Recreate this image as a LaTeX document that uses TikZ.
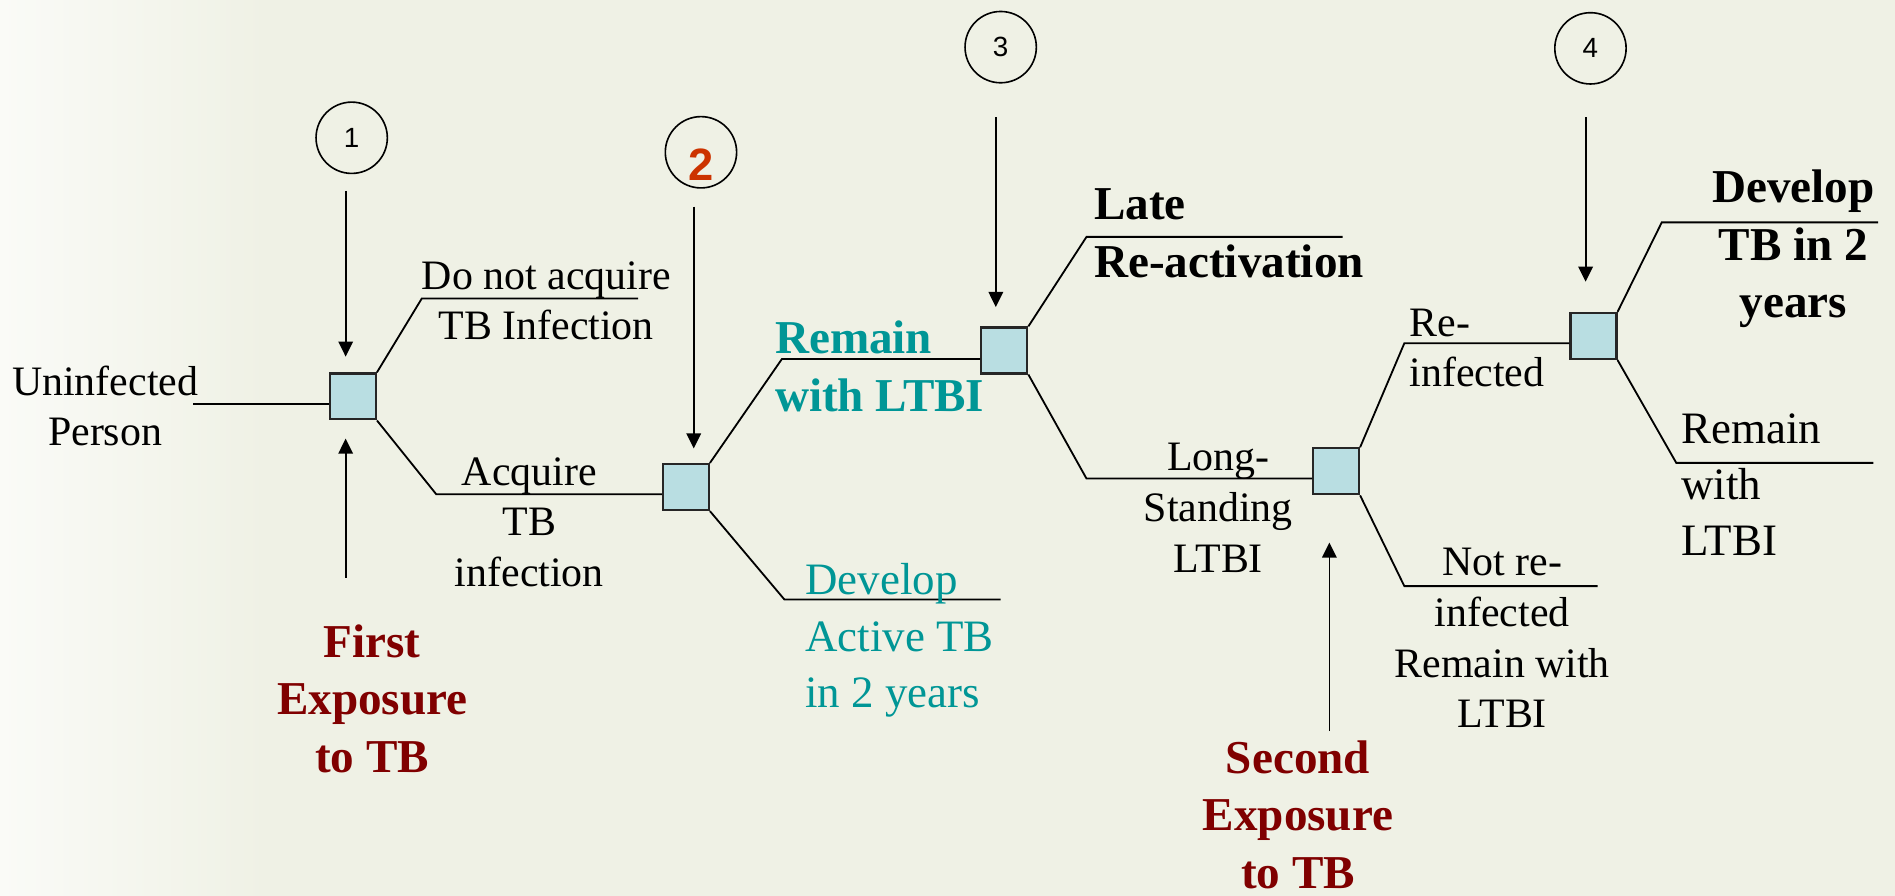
\documentclass[tikz,border=0pt]{standalone}
\usepackage{fontspec}
\setmainfont{Liberation Serif}
\newfontfamily\arialfont{Liberation Sans}
\usetikzlibrary{arrows.meta,calc}
\definecolor{bgc}{RGB}{239,241,229}
\definecolor{boxblue}{RGB}{185,222,226}
\definecolor{tealc}{RGB}{0,150,150}
\definecolor{dred}{RGB}{128,0,0}
\definecolor{rorange}{RGB}{204,51,0}
\tikzset{
  decbox/.style={draw=black!85, line width=1.1pt, fill=boxblue, minimum width=22.8pt, minimum height=22.8pt, inner sep=0pt},
  numc/.style={circle, draw, line width=0.8pt, minimum size=35.4pt, inner sep=0pt, font=\arialfont\fontsize{13.8}{16}\selectfont},
  branch/.style={line width=0.9pt},
  arr/.style={line width=0.9pt, -{Triangle[length=7.5pt,width=7.2pt]}},
  sm/.style={font=\fontsize{20.8}{25.2}\selectfont, inner sep=0pt, align=center},
  lg/.style={font=\fontsize{22.3}{28}\selectfont, inner sep=0pt},
  bd/.style={font=\bfseries\fontsize{23.4}{28.5}\selectfont, inner sep=0pt},
}
\begin{document}
\begin{tikzpicture}[x=0.6pt,y=-0.6pt]
\fill[bgc] (0,0) rectangle (1568,741);
\useasboundingbox (0,0) rectangle (1568,741);
\shade[left color=white!70!bgc, right color=bgc] (0,0) rectangle (220,741);

% numbered circles
\node[numc] (c1) at (291,114) {1};
\node[numc] (c2) at (580,126) {};
\node[font=\arialfont\bfseries\fontsize{22.5}{24}\selectfont, text=rorange, inner sep=0pt] (c2t) at (580,136) {2};
\node[numc] (c3) at (828,39) {3};
\node[numc] (c4) at (1316,40) {4};

% decision boxes
\node[decbox] (b1) at (292,328) {};
\node[decbox] (b2) at (567.5,403) {};
\node[decbox] (b3) at (831,290) {};
\node[decbox] (b4) at (1105.5,390) {};
\node[decbox] (b5) at (1318.5,278) {};

% coordinates
\coordinate (in0) at (160,334);
\coordinate (k1u) at (349,247); \coordinate (e1u) at (528,247);
\coordinate (k1d) at (361,409);
\coordinate (k2u) at (647,297);
\coordinate (k2d) at (649,496); \coordinate (e2d) at (828,496);
\coordinate (k3u) at (899,196); \coordinate (e3u) at (1111,196);
\coordinate (k3d) at (899,396);
\coordinate (k4u) at (1162,284);
\coordinate (k4d) at (1162,485); \coordinate (e4d) at (1322,485);
\coordinate (k5u) at (1375,184); \coordinate (e5u) at (1554,184);
\coordinate (k5d) at (1387,383); \coordinate (e5d) at (1550,383);
\coordinate (a1s) at (286,158);
\coordinate (x1s) at (286,478);
\coordinate (a2s) at (574,171);
\coordinate (a3s) at (824,97);
\coordinate (a4s) at (1312,97);
\coordinate (x2s) at (1100,605);

% branches
\draw[branch] (in0) -- (in0 -| b1.west);
\draw[branch] (b1.north east) -- (k1u) -- (e1u);
\draw[branch] (b1.south east) -- (k1d) -- (k1d -| b2.west);
\draw[branch] (b2.north east) -- (k2u) -- (k2u -| b3.west);
\draw[branch] (b2.south east) -- (k2d) -- (e2d);
\draw[branch] (b3.north east) -- (k3u) -- (e3u);
\draw[branch] (b3.south east) -- (k3d) -- (k3d -| b4.west);
\draw[branch] (b4.north east) -- (k4u) -- (k4u -| b5.west);
\draw[branch] (b4.south east) -- (k4d) -- (e4d);
\draw[branch] (b5.north east) -- (k5u) -- (e5u);
\draw[branch] (b5.south east) -- (k5d) -- (e5d);

% arrows
\draw[arr, shorten >=7.8pt] (a1s) -- (a1s |- b1.north);
\draw[arr, shorten >=9pt] (x1s) -- (x1s |- b1.south);
\draw[arr, shorten >=7.2pt] (a2s) -- (a2s |- b2.north);
\draw[arr, shorten >=9.6pt] (a3s) -- (a3s |- b3.north);
\draw[arr, shorten >=15pt] (a4s) -- (a4s |- b5.north);
\draw[arr, shorten >=23.4pt] (x2s) -- (x2s |- b4.south);

% texts
\node[sm] (unin) at (87,336) {Uninfected\\Person};
\node[sm] (dna) at (452,249) {Do not acquire\\TB Infection};
\node[sm] (acq) at (438,432) {Acquire\\TB\\infection};
\node[bd, text=tealc, anchor=west, align=left] (rem) at (641,303) {Remain\\with LTBI};
\node[lg, text=tealc, anchor=west, align=left] (dev) at (666,530) {Develop\\Active TB\\in 2 years};
\node[bd, anchor=west, align=left] (late) at (905,193) {Late\\Re-activation};
\node[sm] (long) at (1008,420) {Long-\\Standing\\LTBI};
\node[sm, anchor=west, align=left] (rei) at (1166,288) {Re-\\infected};
\node[sm] (notre) at (1243,528) {Not re-\\infected\\Remain with\\LTBI};
\node[bd, align=center] (devtb) at (1484,206) {Develop\\TB in 2\\years};
\node[lg, anchor=west, align=left] (rem2) at (1391,401) {Remain\\with\\LTBI};
\node[bd, text=dred, align=center] (first) at (308,578) {First\\Exposure\\to TB};
\node[bd, text=dred, align=center] (second) at (1074,674) {Second\\Exposure\\to TB};
\end{tikzpicture}
\end{document}
